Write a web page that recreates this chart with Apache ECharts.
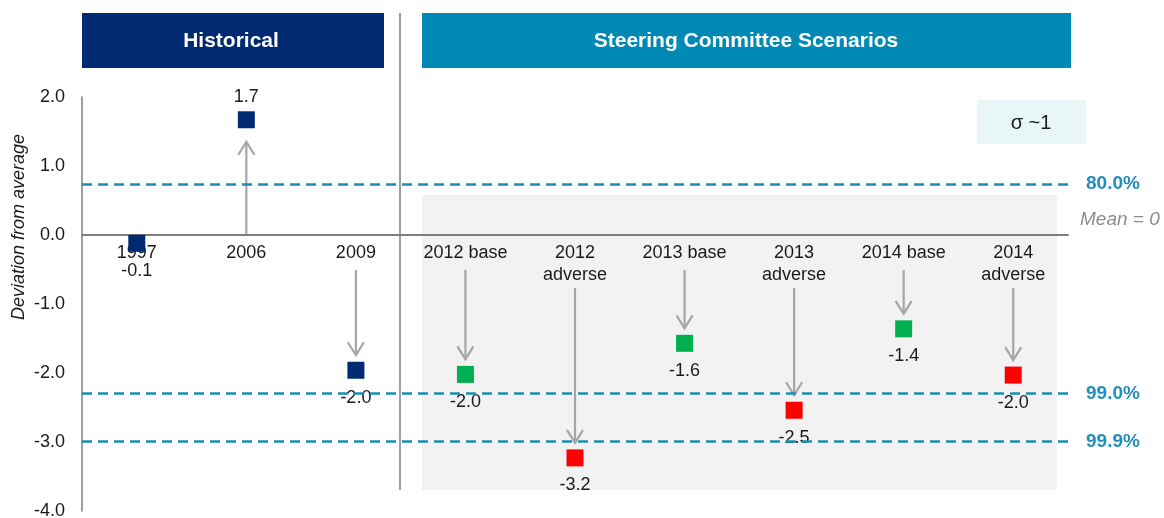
<!DOCTYPE html>
<html>
<head>
<meta charset="utf-8">
<script src="https://cdn.jsdelivr.net/npm/echarts@6/dist/echarts.min.js"></script>
<style>html,body{margin:0;padding:0;background:#fff}#c{width:1164px;height:518px}</style>
</head>
<body>
<div id="c"></div>
<script>
var categories = ['1997', '2006', '2009', '2012 base', '2012\nadverse', '2013 base', '2013\nadverse', '2014 base', '2014\nadverse'];
var values = [-0.12, 1.67, -1.96, -2.02, -3.23, -1.57, -2.54, -1.36, -2.03];
var valueLabels = ['-0.1', '1.7', '-2.0', '-2.0', '-3.2', '-1.6', '-2.5', '-1.4', '-2.0'];
var groups = ['historical', 'historical', 'historical', 'base', 'adverse', 'base', 'adverse', 'base', 'adverse'];
var hasArrow = [false, true, true, true, true, true, true, true, true];
var yTicks = [2, 1, 0, -1, -2, -3, -4];
var refLines = [
  {name: '80.0%', value: 0.74},
  {name: '99.0%', value: -2.30},
  {name: '99.9%', value: -2.99}
];
var headers = ['Historical', 'Steering Committee Scenarios'];
var yAxisName = 'Deviation from average';
var sigmaText = 'σ ~1';
var meanText = 'Mean = 0';

var groupColors = {historical: '#002B73', base: '#00B050', adverse: '#FF0000'};
var FONT = '"Liberation Sans", Arial, sans-serif';
var TXT = '#1a1a1a';

var chart = echarts.init(document.getElementById('c'), null, {renderer: 'canvas'});

var scatterData = values.map(function (v, i) {
  return {
    value: [i, v],
    itemStyle: {color: groupColors[groups[i]], opacity: 1},
    label: {
      show: true,
      formatter: valueLabels[i],
      position: v > 0 ? 'top' : 'bottom',
      distance: v > 0 ? 5 : 10
    }
  };
});

var annoData = values.map(function (v, i) {
  return [i, v, categories[i].indexOf('\n') >= 0 ? 2 : 1, hasArrow[i] ? 1 : 0];
});

var option = {
  animation: false,
  backgroundColor: '#ffffff',
  textStyle: {fontFamily: FONT},
  grid: {left: 82, right: 96, top: 97, bottom: 7, containLabel: false, outerBoundsMode: 'none'},
  xAxis: {
    type: 'category',
    data: categories,
    axisLine: {onZero: true, lineStyle: {color: '#7f7f7f', width: 2}},
    axisTick: {show: false},
    axisLabel: {show: false},
    splitLine: {show: false},
    z: 3
  },
  yAxis: {
    type: 'value',
    min: -4, max: 2, interval: 1,
    axisLine: {show: true, onZero: false, lineStyle: {color: '#7f7f7f', width: 1.5}},
    axisTick: {show: false},
    splitLine: {show: false},
    axisLabel: {color: TXT, fontSize: 18, fontFamily: FONT, margin: 17,
      formatter: function (v) { return yTicks.indexOf(v) >= 0 ? v.toFixed(1) : ''; }}
  },
  graphic: [
    {type: 'rect', z: -10, shape: {x: 422, y: 195, width: 635, height: 295}, style: {fill: '#F2F2F2'}},
    {type: 'line', z: -5, shape: {x1: 400, y1: 13, x2: 400, y2: 490}, style: {stroke: '#7f7f7f', lineWidth: 1.5}},
    {type: 'rect', shape: {x: 82, y: 13, width: 302, height: 55}, style: {fill: '#002B73'}},
    {type: 'text', x: 231, y: 41, style: {text: headers[0], fill: '#fff', font: 'bold 21px ' + FONT, textAlign: 'center', textVerticalAlign: 'middle'}},
    {type: 'rect', shape: {x: 422, y: 13, width: 649, height: 55}, style: {fill: '#0089B4'}},
    {type: 'text', x: 746, y: 41, style: {text: headers[1], fill: '#fff', font: 'bold 21px ' + FONT, textAlign: 'center', textVerticalAlign: 'middle'}},
    {type: 'rect', shape: {x: 977, y: 100, width: 109, height: 44}, style: {fill: '#E8F6F8'}},
    {type: 'text', x: 1031, y: 123, style: {text: sigmaText, fill: TXT, font: '20px ' + FONT, textAlign: 'center', textVerticalAlign: 'middle'}},
    {type: 'text', x: 1080, y: 220, style: {text: meanText, fill: '#8c8c8c', font: 'italic 19px ' + FONT, textAlign: 'left', textVerticalAlign: 'middle'}},
    {type: 'text', x: 19, y: 227, rotation: Math.PI / 2, style: {text: yAxisName, fill: TXT, font: 'italic 18px ' + FONT, textAlign: 'center', textVerticalAlign: 'middle'}}
  ],
  series: [
    {
      type: 'custom',
      z: 2,
      silent: true,
      clip: false,
      data: annoData,
      renderItem: function (params, api) {
        var i = api.value(0), v = api.value(1), lines = api.value(2);
        var p = api.coord([i, v]);
        var z0 = api.coord([i, 0]);
        var x = p[0];
        var children = [{
          type: 'text', z2: 5,
          style: {x: x, y: z0[1] + 7, text: categories[i], fill: TXT, font: '18px ' + FONT,
            textAlign: 'center', textVerticalAlign: 'top', lineHeight: 22}
        }];
        if (api.value(3)) {
          var y1, y2, dir;
          if (v > 0) { y1 = z0[1]; y2 = p[1] + 22; dir = -1; }
          else { y1 = z0[1] + (lines === 2 ? 53 : 35); y2 = p[1] - 15; dir = 1; }
          var st = {stroke: '#A6A6A6', lineWidth: 2.2, fill: null};
          children.push({type: 'line', shape: {x1: x, y1: y1, x2: x, y2: y2}, style: st});
          children.push({type: 'polyline', shape: {points: [[x - 8, y2 - dir * 13], [x, y2], [x + 8, y2 - dir * 13]]}, style: st});
        }
        return {type: 'group', children: children};
      }
    },
    {
      type: 'scatter',
      z: 4,
      symbol: 'rect',
      symbolSize: 17,
      data: scatterData,
      label: {color: TXT, fontSize: 18, fontFamily: FONT},
      markLine: {
        silent: true,
        symbol: ['none', 'none'],
        lineStyle: {color: '#1D8DB8', width: 2.5, type: [10, 6], opacity: 1},
        label: {show: true, position: 'end', distance: 18, color: '#1F8FBF', fontWeight: 'bold', fontSize: 19, fontFamily: FONT,
          formatter: function (p) { return p.name; }},
        data: refLines.map(function (r) { return {name: r.name, yAxis: r.value}; })
      }
    }
  ]
};
chart.setOption(option);
</script>
</body>
</html>
